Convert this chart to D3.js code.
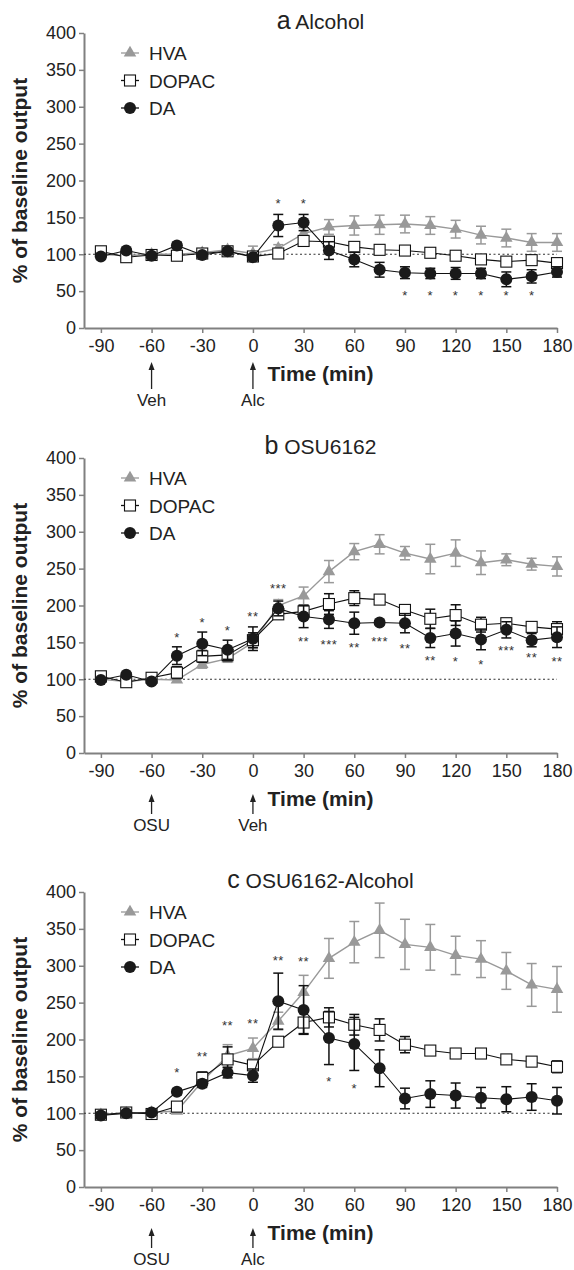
<!DOCTYPE html>
<html>
<head>
<meta charset="utf-8">
<script src="https://cdn.jsdelivr.net/npm/d3@7"></script>
<style>
  body { margin: 0; background: #fff; }
  svg { display: block; }
  text { font-family: "Liberation Sans", Arial, Helvetica, sans-serif; }
</style>
</head>
<body>
<div id="chart"></div>
<script>
// time points (min)
var times = [-90, -75, -60, -45, -30, -15, 0, 15, 30, 45, 60, 75, 90, 105, 120, 135, 150, 165, 180];
var xTicks = [-90, -60, -30, 0, 30, 60, 90, 120, 150, 180];
var yTicks = [0, 50, 100, 150, 200, 250, 300, 350, 400];
var seriesNames = ["HVA", "DOPAC", "DA"];

// panel a - Alcohol
var daA      = [97, 105, 98, 112, 99, 104, 96, 139, 143, 105, 93, 79, 75, 74, 74, 74, 66, 70, 76];
var daAErr   = [3, 3, 3, 4, 3, 4, 3, 15, 11, 12, 10, 10, 8, 7, 8, 7, 10, 9, 7];
var dopacA    = [104, 96, 99, 98, 101, 104, 97, 101, 118, 117, 110, 106, 105, 102, 98, 93, 90, 92, 88];
var dopacAErr = [4, 4, 3, 4, 5, 4, 4, 4, 6, 5, 5, 6, 4, 4, 4, 5, 5, 5, 4];
var hvaA      = [100, 98, 100, 100, 102, 106, 101, 108, 128, 137, 139, 140, 141, 139, 134, 126, 122, 116, 116];
var hvaAErr   = [3, 3, 3, 3, 5, 4, 10, 5, 8, 10, 13, 13, 12, 12, 12, 12, 12, 12, 12];
var starsA = [[15, "*", 172], [30, "*", 172], [90, "*", 47], [105, "*", 47], [120, "*", 47],
              [135, "*", 47], [150, "*", 47], [165, "*", 47]];

// panel b - OSU6162
var daB      = [99, 106, 97, 132, 148, 140, 155, 196, 185, 181, 176, 177, 176, 156, 162, 154, 167, 153, 157];
var daBErr   = [3, 3, 3, 12, 16, 13, 16, 10, 15, 12, 15, 3, 13, 13, 17, 14, 11, 9, 14];
var dopacB    = [104, 96, 102, 109, 131, 133, 153, 188, 192, 202, 210, 208, 194, 182, 187, 174, 176, 171, 168];
var dopacBErr = [3, 3, 3, 8, 8, 8, 10, 6, 8, 14, 10, 5, 5, 13, 14, 10, 5, 5, 10];
var hvaB      = [100, 97, 100, 99, 120, 128, 150, 200, 213, 246, 273, 283, 271, 263, 271, 258, 262, 256, 253];
var hvaBErr   = [3, 3, 3, 3, 5, 5, 8, 8, 12, 15, 11, 13, 9, 20, 18, 16, 8, 8, 13];
var starsB = [[-45, "*", 160], [-30, "*", 181], [-15, "*", 170], [0, "**", 188], [15, "***", 226],
              [30, "**", 154], [45, "***", 150], [60, "**", 146], [75, "***", 155], [90, "**", 145],
              [105, "**", 129], [120, "*", 127], [135, "*", 124], [150, "***", 142], [165, "**", 133],
              [180, "**", 128]];

// panel c - OSU6162-Alcohol
var daC      = [97, 100, 101, 129, 140, 155, 151, 252, 240, 202, 194, 161, 120, 126, 124, 121, 119, 122, 117];
var daCErr   = [3, 3, 3, 4, 5, 7, 9, 38, 33, 36, 36, 25, 14, 18, 17, 14, 17, 18, 18];
var dopacC    = [98, 101, 99, 109, 148, 173, 165, 197, 223, 230, 220, 213, 193, 185, 181, 181, 173, 170, 163];
var dopacCErr = [3, 3, 3, 4, 8, 17, 6, 6, 15, 13, 14, 15, 11, 5, 4, 4, 5, 5, 8];
var hvaC      = [98, 100, 101, 103, 143, 178, 188, 225, 264, 310, 332, 348, 329, 325, 314, 309, 293, 274, 268];
var hvaCErr   = [3, 3, 3, 3, 6, 15, 14, 12, 23, 27, 28, 37, 34, 31, 26, 25, 25, 29, 31];
var starsC = [[-45, "*", 159], [-30, "**", 180], [-15, "**", 222], [0, "**", 225], [15, "**", 310],
              [30, "**", 309], [45, "*", 146], [60, "*", 137]];

var panels = [
  {top: 33,  letter: "a", title: " Alcohol",         da: daA, daErr: daAErr, dopac: dopacA, dopacErr: dopacAErr,
   hva: hvaA, hvaErr: hvaAErr, stars: starsA, arrows: [[-60, "Veh"], [0, "Alc"]], tip: 34},
  {top: 458, letter: "b", title: " OSU6162",         da: daB, daErr: daBErr, dopac: dopacB, dopacErr: dopacBErr,
   hva: hvaB, hvaErr: hvaBErr, stars: starsB, arrows: [[-60, "OSU"], [0, "Veh"]], tip: 41},
  {top: 892, letter: "c", title: " OSU6162-Alcohol", da: daC, daErr: daCErr, dopac: dopacC, dopacErr: dopacCErr,
   hva: hvaC, hvaErr: hvaCErr, stars: starsC, arrows: [[-60, "OSU"], [0, "Alc"]], tip: 41}
];

var W = 574, H = 1270, plotH = 295;
var grey = "#999999", axisGrey = "#808080";

var svg = d3.select("#chart").append("svg")
  .attr("width", W).attr("height", H);

var x = d3.scaleLinear().domain([-100, 180]).range([84, 557]);

// plain hyphen for negative ticks, as in the original figure
function plainFormat(d) { return String(d); }

function drawPanel(p) {
  var bottom = p.top + plotH;
  var y = d3.scaleLinear().domain([0, 400]).range([bottom, p.top]);
  var g = svg.append("g");

  // title
  var tt = g.append("text")
    .attr("x", (x.range()[0] + x.range()[1]) / 2)
    .attr("y", p.top - 4)
    .attr("text-anchor", "middle")
    .attr("fill", "#222");
  tt.append("tspan").attr("font-size", "25px").text(p.letter);
  tt.append("tspan").attr("font-size", "21px").text(p.title);

  // axes
  var yAxis = g.append("g")
    .attr("transform", "translate(84,0)")
    .call(d3.axisLeft(y).tickValues(yTicks).tickFormat(plainFormat)
      .tickSize(5).tickSizeOuter(0).tickPadding(3));
  var xAxis = g.append("g")
    .attr("transform", "translate(0," + bottom + ")")
    .call(d3.axisBottom(x).tickValues(xTicks).tickFormat(plainFormat)
      .tickSize(5).tickSizeOuter(0).tickPadding(6));
  [yAxis, xAxis].forEach(function(a) {
    a.select(".domain").attr("stroke", axisGrey).attr("stroke-width", 2);
    a.selectAll(".tick line").attr("stroke", axisGrey).attr("stroke-width", 1.5);
    a.selectAll(".tick text").attr("font-size", "18px").attr("fill", "#222")
      .attr("font-family", '"Liberation Sans", Arial, sans-serif');
  });

  // axis titles
  g.append("text")
    .attr("transform", "translate(27," + (p.top + plotH / 2) + ") rotate(-90)")
    .attr("text-anchor", "middle")
    .attr("font-size", "21px").attr("font-weight", "bold").attr("fill", "#222")
    .text("% of baseline output");
  g.append("text")
    .attr("x", (x.range()[0] + x.range()[1]) / 2)
    .attr("y", bottom + 53)
    .attr("text-anchor", "middle")
    .attr("font-size", "21px").attr("font-weight", "bold").attr("fill", "#222")
    .text("Time (min)");

  // baseline 100 %
  g.append("line")
    .attr("x1", x(-100)).attr("x2", x(180))
    .attr("y1", y(100)).attr("y2", y(100))
    .attr("stroke", "#333").attr("stroke-width", 1.2)
    .attr("stroke-dasharray", "2,2.5");

  var series = [
    {vals: p.hva,   err: p.hvaErr,   color: grey,   kind: "tri"},
    {vals: p.dopac, err: p.dopacErr, color: "#111", kind: "sq"},
    {vals: p.da,    err: p.daErr,    color: "#111", kind: "circ"}
  ];

  var line = d3.line()
    .x(function(d) { return x(d[0]); })
    .y(function(d) { return y(d[1]); });

  series.forEach(function(s) {
    var pts = times.map(function(t, i) { return [t, s.vals[i], s.err[i]]; });
    var sg = g.append("g");

    sg.append("path")
      .attr("d", line(pts))
      .attr("fill", "none")
      .attr("stroke", s.color)
      .attr("stroke-width", s.kind == "tri" ? 1.4 : 1.1);

    // error bars
    var eb = sg.selectAll(".eb").data(pts).enter().append("g");
    eb.append("line")
      .attr("x1", function(d) { return x(d[0]); })
      .attr("x2", function(d) { return x(d[0]); })
      .attr("y1", function(d) { return y(d[1] - d[2]); })
      .attr("y2", function(d) { return y(d[1] + d[2]); })
      .attr("stroke", s.color).attr("stroke-width", 1.5);
    [-1, 1].forEach(function(sign) {
      eb.append("line")
        .attr("x1", function(d) { return x(d[0]) - 5; })
        .attr("x2", function(d) { return x(d[0]) + 5; })
        .attr("y1", function(d) { return y(d[1] + sign * d[2]); })
        .attr("y2", function(d) { return y(d[1] + sign * d[2]); })
        .attr("stroke", s.color).attr("stroke-width", 1.5);
    });

    // markers
    var mk = sg.selectAll(".mk").data(pts).enter();
    if (s.kind == "circ") {
      mk.append("circle")
        .attr("cx", function(d) { return x(d[0]); })
        .attr("cy", function(d) { return y(d[1]); })
        .attr("r", 6).attr("fill", "#1a1a1a");
    } else if (s.kind == "sq") {
      mk.append("rect")
        .attr("x", function(d) { return x(d[0]) - 5.5; })
        .attr("y", function(d) { return y(d[1]) - 5.5; })
        .attr("width", 11).attr("height", 11)
        .attr("fill", "#fff").attr("stroke", "#111").attr("stroke-width", 1.1);
    } else {
      mk.append("path")
        .attr("d", d3.symbol().type(d3.symbolTriangle).size(68))
        .attr("transform", function(d) { return "translate(" + x(d[0]) + "," + y(d[1]) + ")"; })
        .attr("fill", grey);
    }
  });

  // significance stars
  g.selectAll(".star").data(p.stars).enter().append("text")
    .attr("x", function(d) { return x(d[0]); })
    .attr("y", function(d) { return y(d[2]) + 7; })
    .attr("text-anchor", "middle")
    .attr("font-size", "13px").attr("fill", "#333")
    .attr("letter-spacing", "0.5px")
    .text(function(d) { return d[1]; });

  // legend
  var lg = g.append("g");
  seriesNames.forEach(function(name, i) {
    var ly = p.top + 20 + i * 27.5;
    var s = series[i];
    lg.append("line").attr("x1", 121).attr("x2", 139).attr("y1", ly).attr("y2", ly)
      .attr("stroke", s.color).attr("stroke-width", 1.3);
    if (s.kind == "circ") {
      lg.append("circle").attr("cx", 130).attr("cy", ly).attr("r", 6).attr("fill", "#1a1a1a");
    } else if (s.kind == "sq") {
      lg.append("rect").attr("x", 124.5).attr("y", ly - 5.5).attr("width", 11).attr("height", 11)
        .attr("fill", "#fff").attr("stroke", "#111").attr("stroke-width", 1.1);
    } else {
      lg.append("path").attr("d", d3.symbol().type(d3.symbolTriangle).size(68))
        .attr("transform", "translate(130," + ly + ")").attr("fill", grey);
    }
    lg.append("text").attr("x", 149).attr("y", ly + 7)
      .attr("font-size", "19px").attr("fill", "#222").text(name);
  });

  // treatment arrows
  p.arrows.forEach(function(a) {
    var ax = x(a[0]);
    var tipY = bottom + p.tip;
    g.append("line").attr("x1", ax).attr("x2", ax)
      .attr("y1", tipY + 5).attr("y2", bottom + 61)
      .attr("stroke", "#222").attr("stroke-width", 1.3);
    g.append("path")
      .attr("d", "M" + ax + "," + tipY + "L" + (ax - 3) + "," + (tipY + 8) + "L" + (ax + 3) + "," + (tipY + 8) + "Z")
      .attr("fill", "#222");
    g.append("text").attr("x", ax).attr("y", bottom + 78)
      .attr("text-anchor", "middle").attr("font-size", "17px").attr("fill", "#222")
      .text(a[1]);
  });
}

panels.forEach(drawPanel);
</script>
</body>
</html>
